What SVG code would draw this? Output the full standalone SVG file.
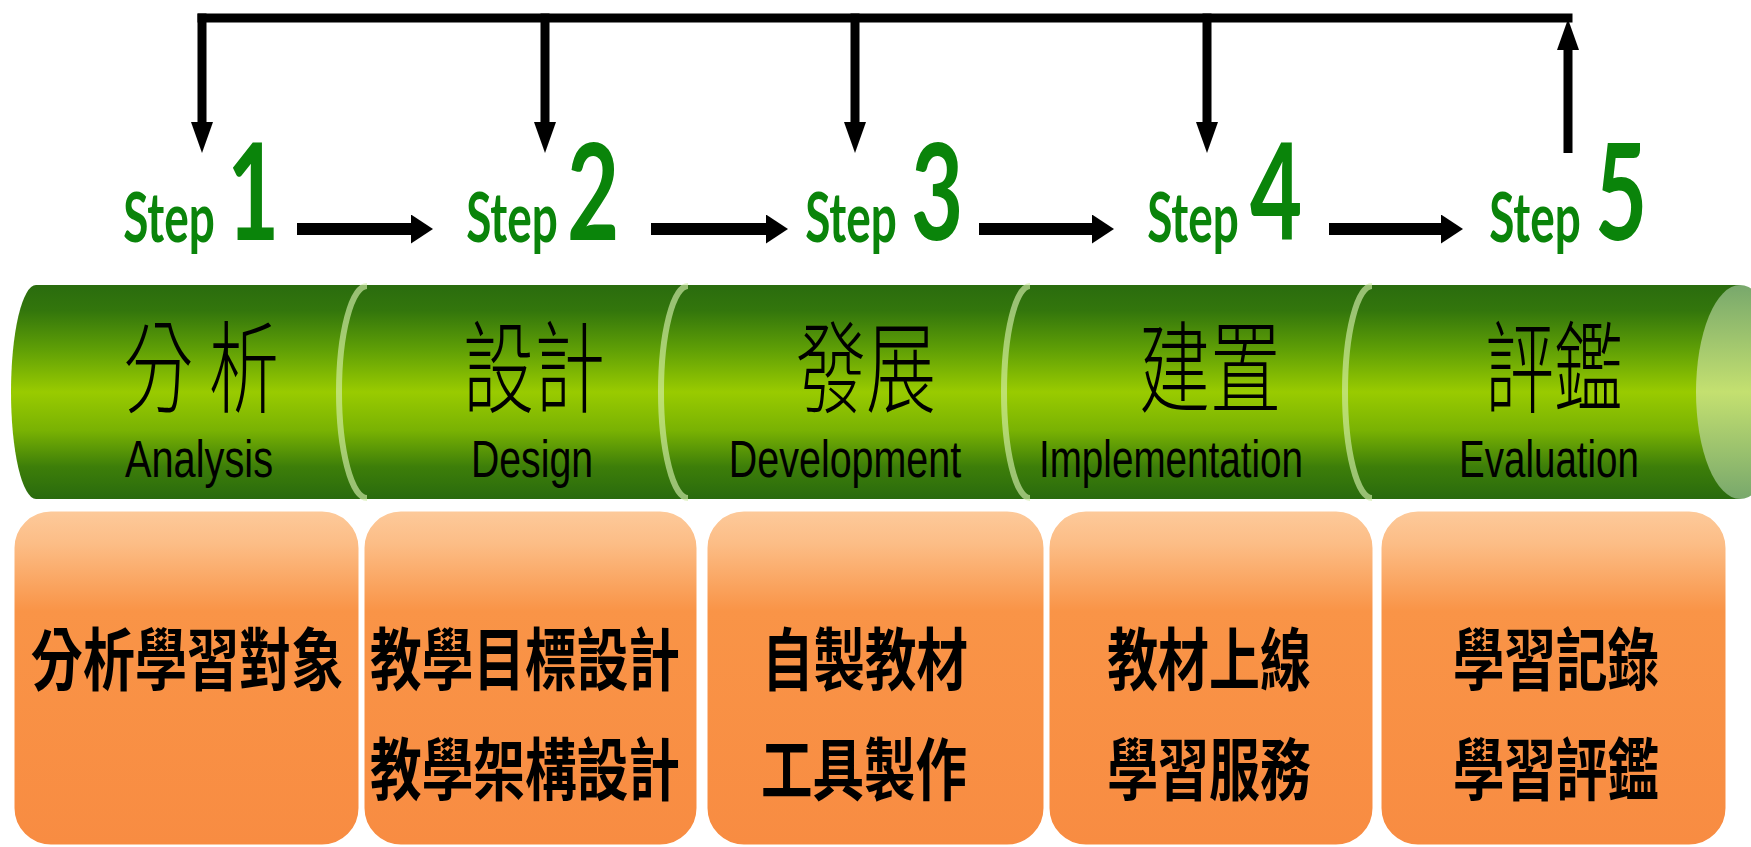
<svg xmlns="http://www.w3.org/2000/svg" width="1751" height="847" viewBox="0 0 1751 847">
<defs>
<linearGradient id="band" x1="0" y1="0" x2="0" y2="1">
<stop offset="0" stop-color="#2a6c0e"/>
<stop offset="0.12" stop-color="#33760c"/>
<stop offset="0.3" stop-color="#5f9f06"/>
<stop offset="0.5" stop-color="#99cb00"/>
<stop offset="0.68" stop-color="#79b203"/>
<stop offset="0.85" stop-color="#3d7e09"/>
<stop offset="1" stop-color="#296a0e"/>
</linearGradient>
<linearGradient id="cap" x1="0" y1="0" x2="0" y2="1">
<stop offset="0" stop-color="#78a86c"/>
<stop offset="0.5" stop-color="#c4e070"/>
<stop offset="1" stop-color="#78a86c"/>
</linearGradient>
<linearGradient id="box" x1="0" y1="0" x2="0" y2="1">
<stop offset="0" stop-color="#fdca9b"/>
<stop offset="0.1" stop-color="#fcbd86"/>
<stop offset="0.3" stop-color="#f99447"/>
<stop offset="1" stop-color="#f88c42"/>
</linearGradient>
<marker id="hh" markerUnits="userSpaceOnUse" markerWidth="22" markerHeight="30" refX="1" refY="14.5" orient="auto">
<path d="M0,0 L22,14.5 L0,29 Z" fill="#000"/>
</marker>
<marker id="hv" markerUnits="userSpaceOnUse" markerWidth="32" markerHeight="23" refX="1" refY="11" orient="auto">
<path d="M0,0 L31,11 L0,22 Z" fill="#000"/>
</marker>
<style>
.step{font-family:Lato,"Open Sans",sans-serif;fill:#0a840a;font-size:68px;font-weight:700;}
.num{font-family:Lato,"Open Sans",sans-serif;fill:#0a840a;font-size:135px;font-weight:700;}
.zh{font-family:"Noto Sans CJK TC","Noto Sans CJK SC",sans-serif;font-size:100px;fill:#000;font-weight:300;}
.en{font-family:"Liberation Sans",Arial,sans-serif;font-size:52px;fill:#000;}
.bx{font-family:"Noto Sans CJK TC","Noto Sans CJK SC",sans-serif;font-size:68px;fill:#000;font-weight:700;}
.obox{fill:url(#box);stroke:#fff;stroke-width:3;}
.div{fill:none;stroke:#d2ecaa;stroke-opacity:0.65;stroke-width:6;}
.ln{fill:none;stroke:#000;}
</style>
</defs>
<rect width="1751" height="847" fill="#fff"/>

<g id="band">
<path d="M36,285 H1740 V499 H36 A25,107 0 0 1 36,285 Z" fill="url(#band)"/>
<ellipse cx="1740" cy="392" rx="44" ry="107" fill="url(#cap)"/>
<path class="div" d="M367,286 A28,106 0 0 0 367,498"/>
<path class="div" d="M688,286 A27,106 0 0 0 688,498"/>
<path class="div" d="M1030,286 A26,106 0 0 0 1030,498"/>
<path class="div" d="M1372,286 A27,106 0 0 0 1372,498"/>
</g>

<g id="connectors">
<path class="ln" stroke-width="9" d="M197.5,18 H1572.5"/>
<path class="ln" stroke-width="9" d="M202,13.5 V123" marker-end="url(#hv)"/>
<path class="ln" stroke-width="9" d="M545,13.5 V123" marker-end="url(#hv)"/>
<path class="ln" stroke-width="9" d="M855,13.5 V123" marker-end="url(#hv)"/>
<path class="ln" stroke-width="9" d="M1207,13.5 V123" marker-end="url(#hv)"/>
<path class="ln" stroke-width="9" d="M1568,153 V49" marker-end="url(#hv)"/>
<path class="ln" stroke-width="12" d="M297,229 H412" marker-end="url(#hh)"/>
<path class="ln" stroke-width="12" d="M651,229 H767" marker-end="url(#hh)"/>
<path class="ln" stroke-width="12" d="M979,229 H1093" marker-end="url(#hh)"/>
<path class="ln" stroke-width="12" d="M1329,229 H1442" marker-end="url(#hh)"/>
</g>

<g id="step1">
<text class="step" transform="translate(169,242) scale(0.7,1)" text-anchor="middle" textLength="131" lengthAdjust="spacingAndGlyphs">Step</text>
<text class="num" transform="translate(253,240) scale(0.67,1)" text-anchor="middle" textLength="78" lengthAdjust="spacingAndGlyphs">1</text>
<text class="zh" transform="translate(201,405) scale(0.7,1)" text-anchor="middle" textLength="223" lengthAdjust="spacingAndGlyphs">分 析</text>
<text class="en" transform="translate(199,477) scale(0.74,1)" text-anchor="middle" textLength="200" lengthAdjust="spacingAndGlyphs">Analysis</text>
<rect class="obox" x="13" y="510" width="347" height="336" rx="38"/>
<text class="bx" transform="translate(187,685) scale(0.76,1)" text-anchor="middle" textLength="411" lengthAdjust="spacingAndGlyphs">分析學習對象</text>
</g>

<g id="step2">
<text class="step" transform="translate(512,242) scale(0.7,1)" text-anchor="middle" textLength="131" lengthAdjust="spacingAndGlyphs">Step</text>
<text class="num" transform="translate(593,240) scale(0.67,1)" text-anchor="middle" textLength="78" lengthAdjust="spacingAndGlyphs">2</text>
<text class="zh" transform="translate(534,405) scale(0.7,1)" text-anchor="middle" textLength="203" lengthAdjust="spacingAndGlyphs">設計</text>
<text class="en" transform="translate(532,477) scale(0.74,1)" text-anchor="middle" textLength="165" lengthAdjust="spacingAndGlyphs">Design</text>
<rect class="obox" x="363" y="510" width="335" height="336" rx="38"/>
<text class="bx" transform="translate(525,685) scale(0.76,1)" text-anchor="middle" textLength="408" lengthAdjust="spacingAndGlyphs">教學目標設計</text>
<text class="bx" transform="translate(525,795) scale(0.76,1)" text-anchor="middle" textLength="408" lengthAdjust="spacingAndGlyphs">教學架構設計</text>
</g>

<g id="step3">
<text class="step" transform="translate(851,242) scale(0.7,1)" text-anchor="middle" textLength="131" lengthAdjust="spacingAndGlyphs">Step</text>
<text class="num" transform="translate(937,240) scale(0.67,1)" text-anchor="middle" textLength="78" lengthAdjust="spacingAndGlyphs">3</text>
<text class="zh" transform="translate(866,405) scale(0.7,1)" text-anchor="middle" textLength="200" lengthAdjust="spacingAndGlyphs">發展</text>
<text class="en" transform="translate(845,477) scale(0.74,1)" text-anchor="middle" textLength="314" lengthAdjust="spacingAndGlyphs">Development</text>
<rect class="obox" x="706" y="510" width="339" height="336" rx="38"/>
<text class="bx" transform="translate(865,685) scale(0.76,1)" text-anchor="middle" textLength="271" lengthAdjust="spacingAndGlyphs">自製教材</text>
<text class="bx" transform="translate(864,795) scale(0.76,1)" text-anchor="middle" textLength="271" lengthAdjust="spacingAndGlyphs">工具製作</text>
</g>

<g id="step4">
<text class="step" transform="translate(1193,242) scale(0.7,1)" text-anchor="middle" textLength="131" lengthAdjust="spacingAndGlyphs">Step</text>
<text class="num" transform="translate(1276,240) scale(0.67,1)" text-anchor="middle" textLength="78" lengthAdjust="spacingAndGlyphs">4</text>
<text class="zh" transform="translate(1210,405) scale(0.7,1)" text-anchor="middle" textLength="203" lengthAdjust="spacingAndGlyphs">建置</text>
<text class="en" transform="translate(1171,477) scale(0.74,1)" text-anchor="middle" textLength="357" lengthAdjust="spacingAndGlyphs">Implementation</text>
<rect class="obox" x="1048" y="510" width="326" height="336" rx="38"/>
<text class="bx" transform="translate(1209,685) scale(0.76,1)" text-anchor="middle" textLength="268" lengthAdjust="spacingAndGlyphs">教材上線</text>
<text class="bx" transform="translate(1209,795) scale(0.76,1)" text-anchor="middle" textLength="268" lengthAdjust="spacingAndGlyphs">學習服務</text>
</g>

<g id="step5">
<text class="step" transform="translate(1535,242) scale(0.7,1)" text-anchor="middle" textLength="131" lengthAdjust="spacingAndGlyphs">Step</text>
<text class="num" transform="translate(1621,240) scale(0.67,1)" text-anchor="middle" textLength="78" lengthAdjust="spacingAndGlyphs">5</text>
<text class="zh" transform="translate(1554,405) scale(0.7,1)" text-anchor="middle" textLength="197" lengthAdjust="spacingAndGlyphs">評鑑</text>
<text class="en" transform="translate(1549,477) scale(0.74,1)" text-anchor="middle" textLength="243" lengthAdjust="spacingAndGlyphs">Evaluation</text>
<rect class="obox" x="1380" y="510" width="347" height="336" rx="38"/>
<text class="bx" transform="translate(1556,685) scale(0.76,1)" text-anchor="middle" textLength="271" lengthAdjust="spacingAndGlyphs">學習記錄</text>
<text class="bx" transform="translate(1556,795) scale(0.76,1)" text-anchor="middle" textLength="271" lengthAdjust="spacingAndGlyphs">學習評鑑</text>
</g>
</svg>
